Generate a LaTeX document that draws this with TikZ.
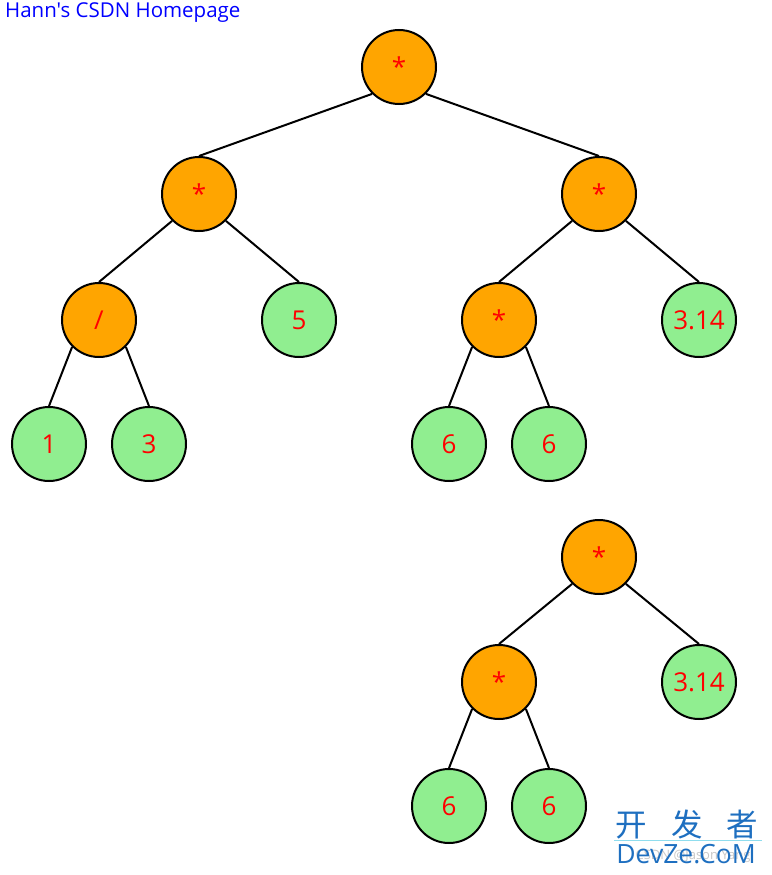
\documentclass[tikz,border=0pt]{standalone}
\usepackage{fontspec}
\setmainfont{Open Sans}
\newfontfamily\titlefont{Open Sans}
\newfontfamily\cjkfont{Noto Sans CJK SC}
\usetikzlibrary{positioning}
\definecolor{OpFill}{HTML}{FFA500}
\definecolor{LeafFill}{HTML}{90EE90}
\definecolor{MarkBlue}{HTML}{1E6FC0}
\definecolor{MarkLine}{HTML}{8FDDEE}
\tikzset{
  every node/.style={font=\fontsize{26}{26}\selectfont, text=red},
  opnode/.style={circle, draw=black, line width=2pt, fill=OpFill, minimum size=74pt, inner sep=0pt},
  leaf/.style={opnode, fill=LeafFill},
  branch/.style={draw=black, line width=2pt},
}

\begin{document}
\begin{tikzpicture}[x=1pt,y=-1pt]
  \useasboundingbox (0,0) rectangle (771,875);
  % Page title
  \node[anchor=west, inner sep=0pt, text=blue, font=\titlefont\fontsize{20.5}{20.5}\selectfont] (title) at (5,13) {Hann's CSDN Homepage};
  % Full expression tree
  \node[opnode] (top) at (399,67) {*};
  \node[opnode] (mulA) at (199,194) {*};
  \node[opnode] (mulB) at (599,194) {*};
  \node[opnode] (divA) at (99,320) {/};
  \node[leaf] (five) at (299,320) {5};
  \node[opnode] (mulC) at (499,320) {*};
  \node[leaf] (piA) at (699,320) {3.14};
  \node[leaf] (one) at (49,444) {1};
  \node[leaf] (three) at (149,444) {3};
  \node[leaf] (sixA) at (449,444) {6};
  \node[leaf] (sixB) at (549,444) {6};
  \draw[branch] (top.south west) -- (mulA.north);
  \draw[branch] (top.south east) -- (mulB.north);
  \draw[branch] (mulA.south west) -- (divA.north);
  \draw[branch] (mulA.south east) -- (five.north);
  \draw[branch] (mulB.south west) -- (mulC.north);
  \draw[branch] (mulB.south east) -- (piA.north);
  \draw[branch] (divA.south west) -- (one.north);
  \draw[branch] (divA.south east) -- (three.north);
  \draw[branch] (mulC.south west) -- (sixA.north);
  \draw[branch] (mulC.south east) -- (sixB.north);
  % Sub-tree
  \node[opnode] (subTop) at (599,557) {*};
  \node[opnode] (subMul) at (499,682) {*};
  \node[leaf] (subPi) at (699,682) {3.14};
  \node[leaf] (subSixA) at (449,806) {6};
  \node[leaf] (subSixB) at (549,806) {6};
  \draw[branch] (subTop.south west) -- (subMul.north);
  \draw[branch] (subTop.south east) -- (subPi.north);
  \draw[branch] (subMul.south west) -- (subSixA.north);
  \draw[branch] (subMul.south east) -- (subSixB.north);
  % Watermark
  \node[text=MarkBlue, inner sep=0pt, font=\cjkfont\fontsize{31.5}{31.5}\selectfont] (markCjk) at (687,825) {开\hspace{24pt}发\hspace{24pt}者};
  \draw[MarkLine, line width=1pt] (614,840) -- (762,840);
  \node[text=black!22, inner sep=0pt, font=\fontsize{13}{13}\selectfont] (markUser) at (693,856) {CSDN @Jason Yang};
  \node[text=MarkBlue, inner sep=0pt, font=\fontsize{26.5}{26.5}\selectfont] (markSite) at (686,854) {DevZe.CoM};
\end{tikzpicture}
\end{document}
